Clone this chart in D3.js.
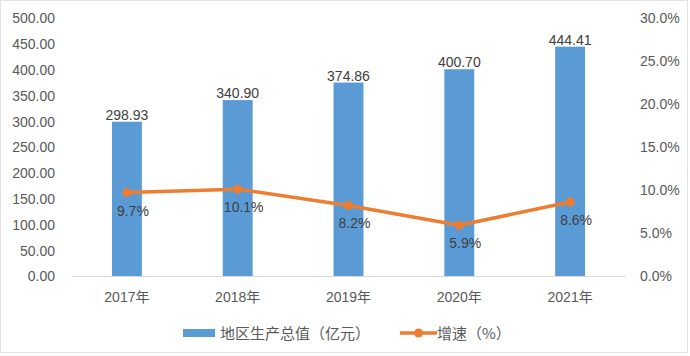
<!DOCTYPE html>
<html><head><meta charset="utf-8">
<script src="https://cdn.jsdelivr.net/npm/d3@7"></script>
<style>
html,body{margin:0;padding:0;background:#fff;}
svg{display:block;}
</style></head>
<body>
<svg id="chart" width="690" height="356"></svg>
<script>
const categories = ["2017年","2018年","2019年","2020年","2021年"];
const gdpValues = [298.93, 340.90, 374.86, 400.70, 444.41];
const growthValues = [9.7, 10.1, 8.2, 5.9, 8.6];
const leftTicks = [0,50,100,150,200,250,300,350,400,450,500];
const rightTicks = [0,5,10,15,20,25,30];
const legendLabels = ["地区生产总值（亿元）","增速（%）"];

const svg = d3.select("#chart");
const W = 690, H = 356;
const m = {left:71.5, right:625.5, top:18, bottom:276};
const barColor = "#5B9BD5", lineColor = "#ED7D31";
const font = "'Liberation Sans','Noto Sans CJK SC',sans-serif";

svg.append("rect").attr("x",0.5).attr("y",0.5).attr("width",W-3).attr("height",H-4)
  .attr("fill","#fff").attr("stroke","#e3e3e3");

const x = d3.scaleBand().domain(categories).range([m.left,m.right]).paddingInner(0.73).paddingOuter(0.365);
const yL = d3.scaleLinear().domain([0,500]).range([m.bottom,m.top]);
const yR = d3.scaleLinear().domain([0,30]).range([m.bottom,m.top]);

// left axis
const la = svg.append("g").attr("transform",`translate(55,0)`)
  .call(d3.axisLeft(yL).tickValues(leftTicks).tickFormat(d3.format(".2f")).tickSize(0).tickPadding(0));
la.select(".domain").remove();
la.selectAll("text").attr("font-family",font).attr("font-size",14).attr("fill","#595959").attr("dy","0.35em");

// right axis
const ra = svg.append("g").attr("transform",`translate(640,0)`)
  .call(d3.axisRight(yR).tickValues(rightTicks).tickFormat(d=>d.toFixed(1)+"%").tickSize(0).tickPadding(0));
ra.select(".domain").remove();
ra.selectAll("text").attr("font-family",font).attr("font-size",14).attr("fill","#595959").attr("dy","0.35em");

// bars
svg.selectAll("rect.bar").data(gdpValues).enter().append("rect").attr("class","bar")
  .attr("x",(d,i)=>x(categories[i])).attr("width",x.bandwidth())
  .attr("y",d=>yL(d)).attr("height",d=>yL(0)-yL(d)).attr("fill",barColor);

// baseline
svg.append("line").attr("x1",m.left).attr("x2",m.right).attr("y1",m.bottom+0.5).attr("y2",m.bottom+0.5)
  .attr("stroke","#d9d9d9").attr("stroke-width",1);

// bar labels
svg.selectAll("text.bl").data(gdpValues).enter().append("text").attr("class","bl")
  .attr("x",(d,i)=>x(categories[i])+x.bandwidth()/2).attr("y",d=>yL(d)-2)
  .attr("text-anchor","middle").attr("font-family",font).attr("font-size",14).attr("fill","#404040")
  .text(d=>d.toFixed(2));

// x labels
const xa = svg.append("g").attr("transform",`translate(0,${m.bottom})`)
  .call(d3.axisBottom(x).tickSize(0).tickPadding(0));
xa.select(".domain").remove();
xa.selectAll("text").attr("font-family",font).attr("font-size",14).attr("fill","#595959").attr("dy","1.85em").attr("y",0);

// line
const cx = i => x(categories[i])+x.bandwidth()/2;
const line = d3.line().x((d,i)=>cx(i)).y(d=>yR(d));
svg.append("path").datum(growthValues).attr("d",line).attr("fill","none")
  .attr("stroke",lineColor).attr("stroke-width",3.5).attr("stroke-linejoin","round");
svg.selectAll("circle.pt").data(growthValues).enter().append("circle").attr("class","pt")
  .attr("cx",(d,i)=>cx(i)).attr("cy",d=>yR(d)).attr("r",4.5).attr("fill",lineColor);
svg.selectAll("text.ll").data(growthValues).enter().append("text").attr("class","ll")
  .attr("x",(d,i)=>cx(i)+6).attr("y",d=>yR(d)+23)
  .attr("text-anchor","middle").attr("font-family",font).attr("font-size",14).attr("fill","#404040")
  .text(d=>d.toFixed(1)+"%");

// legend
const lg = svg.append("g");
lg.append("rect").attr("x",183).attr("y",329).attr("width",32).attr("height",8).attr("fill",barColor);
lg.append("text").attr("x",220).attr("y",338.5).attr("font-family","'Noto Sans CJK SC',sans-serif")
  .attr("font-size",15).attr("fill","#595959").text(legendLabels[0]);
lg.append("line").attr("x1",400).attr("x2",437).attr("y1",333).attr("y2",333)
  .attr("stroke",lineColor).attr("stroke-width",3.5);
lg.append("circle").attr("cx",418.5).attr("cy",333).attr("r",4.5).attr("fill",lineColor);
lg.append("text").attr("x",437).attr("y",338.5).attr("font-family","'Noto Sans CJK SC',sans-serif")
  .attr("font-size",15).attr("fill","#595959").text(legendLabels[1]);
</script>
</body></html>
